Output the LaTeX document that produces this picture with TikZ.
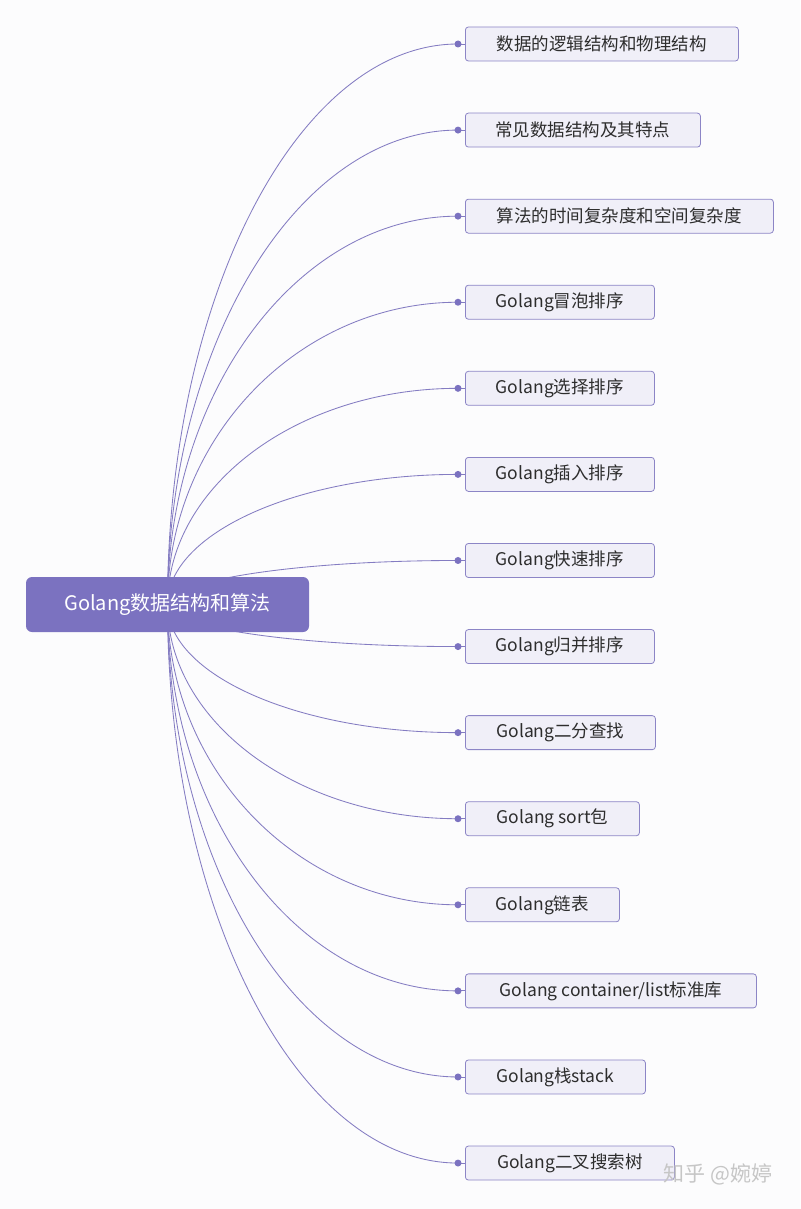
\documentclass[tikz,border=0pt]{standalone}
\usepackage{fontspec}
\setmainfont{Noto Sans CJK SC}
\definecolor{pagebg}{RGB}{252, 252, 253}
\definecolor{rootpurple}{RGB}{123, 114, 192}
\definecolor{linkpurple}{RGB}{132, 124, 194}
\definecolor{leaffill}{RGB}{240, 239, 248}
\definecolor{leafdraw}{RGB}{140, 133, 198}
\definecolor{leaftext}{RGB}{45, 45, 45}
\usetikzlibrary{calc}
\pgfdeclarelayer{bg}
\pgfdeclarelayer{links}
\pgfsetlayers{bg,links,main}

\begin{document}
\begin{tikzpicture}[x=1pt, y=-1pt,
    rootbox/.style={fill=rootpurple, rounded corners=6pt, text=white, font=\fontsize{20}{24}\selectfont, minimum width=283pt, minimum height=55pt, inner sep=0pt},
    leafbox/.style={draw=leafdraw, fill=leaffill, rounded corners=3pt, line width=0.8pt, text=leaftext, font=\fontsize{17.5}{21}\selectfont, minimum height=34pt, inner sep=0pt, anchor=west},
    link/.style={draw=linkpurple, line width=0.85pt}]

  % ===== Page =====
  \begin{pgfonlayer}{bg}
    \fill[pagebg] (0, 0) rectangle (800, 1209);
  \end{pgfonlayer}
  \useasboundingbox (0, 0) rectangle (800, 1209);

  % ===== Root =====
  \node[rootbox] (root) at (167.5, 604.5) {Golang数据结构和算法};

  % ===== Leaves: right edge / label =====
  \foreach \r/\t [count=\i] in {
      738/数据的逻辑结构和物理结构,
      700/常见数据结构及其特点,
      773/算法的时间复杂度和空间复杂度,
      654/Golang冒泡排序,
      654/Golang选择排序,
      654/Golang插入排序,
      654/Golang快速排序,
      654/Golang归并排序,
      655/Golang二分查找,
      639/Golang sort包,
      619/Golang链表,
      756/{Golang container/list标准库},
      645/Golang栈stack,
      674/Golang二叉搜索树} {
    \pgfmathsetmacro{\yy}{44 + 86.08*(\i-1)}
    \pgfmathsetmacro{\ww}{\r - 465}
    \node[leafbox, minimum width=\ww pt] (leaf\i) at (465, \yy) {\t};
    \coordinate (dot\i) at (458, \yy);

    % curved link from the root, behind the root box
    \begin{pgfonlayer}{links}
      \draw[link] (root.center) .. controls ($(root.center)!0.55!(root.center |- dot\i)$) and ($(dot\i)!0.55!(dot\i -| root.center)$) .. (dot\i);
    \end{pgfonlayer}
    \draw[link] (dot\i) -- (leaf\i.west);
    \fill[rootpurple] (dot\i) circle (3.5);
  }

  % Watermark
  \node[text=gray!45, font=\fontsize{21}{24}\selectfont] (watermark) at (718, 1174) {知乎 @婉婷};
\end{tikzpicture}
\end{document}
